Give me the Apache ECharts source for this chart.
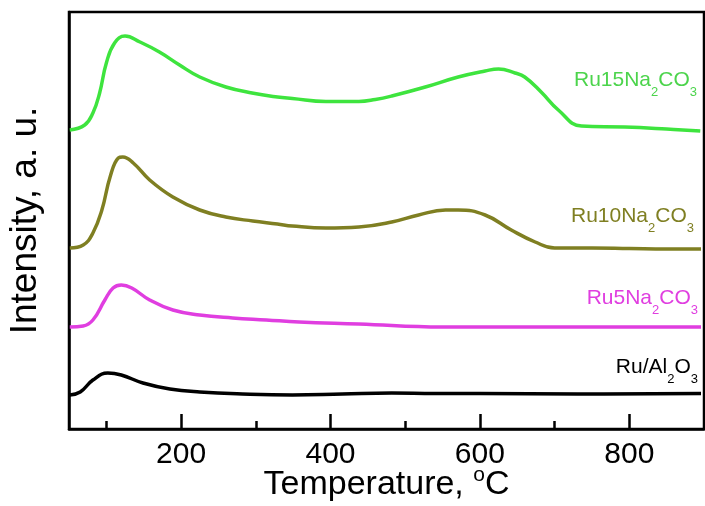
<!DOCTYPE html>
<html>
<head>
<meta charset="utf-8">
<script src="https://cdn.jsdelivr.net/npm/echarts@6/dist/echarts.min.js"></script>
<style>
  html, body { margin: 0; padding: 0; background: #fff; }
  #chart { width: 705px; height: 506px; }
</style>
</head>
<body>
<div id="chart"></div>
<script>
// H2-TPD style profiles, stacked with vertical offsets (arbitrary units)
const ru15Temp = [51, 71, 82, 91, 100, 111, 125, 145, 171, 198, 225, 260, 295, 329, 349, 394, 438, 460, 482, 527, 571, 607, 625, 647, 660, 682, 705, 736, 794, 850, 895];
const ru15Int  = [299, 304, 316, 336, 366, 386, 393, 387, 377, 364, 352, 342, 336, 332, 330.5, 327.5, 327.5, 329.5, 333, 342, 352, 358, 360, 356, 352, 337, 319, 303, 302, 300, 298];

const ru10Temp = [51, 69, 82, 94, 105, 116, 122, 136, 158, 189, 225, 260, 296, 329, 349, 394, 438, 482, 518, 554, 571, 607, 642, 674, 700, 750, 800, 850, 896];
const ru10Int  = [181, 184, 196, 219, 252, 271, 272, 266, 249, 232, 219, 212, 208, 205, 203, 201, 202, 207, 214, 219, 219, 214, 199, 187, 181, 181, 180.5, 180, 180];

const ru5Temp = [51, 69, 82, 98, 109, 120, 134, 158, 189, 225, 269, 314, 358, 438, 550, 700, 896];
const ru5Int  = [102, 103, 109, 129, 141, 144, 141, 129, 119, 114, 111, 109, 107, 105, 102, 102, 102];

const ruAlTemp = [51, 65, 82, 102, 120, 149, 185, 225, 282, 349, 416, 482, 540, 600, 731, 896];
const ruAlInt  = [34, 37, 49, 56, 54, 46, 40, 37, 35, 34, 35, 36, 35.5, 35.5, 35, 35.5];

const majorTicks = [200, 400, 600, 800];
const minorTicks = [100, 300, 500, 700];

const seriesNames = ['Ru15Na2CO3', 'Ru10Na2CO3', 'Ru5Na2CO3', 'Ru/Al2O3'];
const seriesColors = ['#3ee43e', '#7f7f22', '#e03ee0', '#000000'];

function zip(xs, ys) { return xs.map((x, i) => [x, ys[i]]); }

const chart = echarts.init(document.getElementById('chart'), null, { renderer: 'canvas' });

const FONT = 'Liberation Sans, Arial, sans-serif';

function curve(name, temps, ints, color) {
  return {
    name: name,
    type: 'line',
    data: zip(temps, ints),
    smooth: 0.45,
    showSymbol: false,
    symbol: 'none',
    lineStyle: { color: color, width: 3.5 },
    itemStyle: { color: color },
    z: 3
  };
}

// Series label with subscript digits
function subLabel(parts, color, right, top) {
  return {
    type: 'text',
    right: right,
    top: top,
    z: 10,
    style: {
      text: parts,
      fill: color,
      font: '21px ' + FONT,
      rich: {
        m: { fontSize: 21, fontFamily: FONT, lineHeight: 24, verticalAlign: 'top', color: color },
        s: { fontSize: 13, fontFamily: FONT, lineHeight: 29, verticalAlign: 'bottom', color: color }
      }
    }
  };
}

const option = {
  animation: false,
  backgroundColor: '#fff',
  grid: {
    left: 69, right: 1, top: 12, bottom: 77,
    outerBoundsMode: 'none',
    containLabel: false,
    show: true, borderColor: '#000', borderWidth: 2.5, backgroundColor: 'transparent'
  },
  xAxis: [
    {
      type: 'value', min: 50, max: 900, position: 'bottom',
      axisLine: { show: true, lineStyle: { color: '#000', width: 2.5 } },
      axisTick: { show: true, inside: true, length: 15, customValues: majorTicks, lineStyle: { color: '#000', width: 2.5 } },
      axisLabel: { show: true, customValues: majorTicks, color: '#000', fontSize: 30, fontFamily: FONT, margin: 11 },
      splitLine: { show: false },
      name: 'Temperature, {sup|o}C',
      nameLocation: 'middle', nameGap: 36,
      nameMoveOverlap: false,
      nameTextStyle: {
        color: '#000', fontSize: 34, fontFamily: FONT, lineHeight: 40,
        rich: {
          sup: { fontSize: 21, fontFamily: FONT, verticalAlign: 'top', color: '#000' }
        }
      }
    },
    {
      type: 'value', min: 50, max: 900, position: 'bottom',
      axisLine: { show: false },
      axisTick: { show: true, inside: true, length: 8, customValues: minorTicks, lineStyle: { color: '#000', width: 2.5 } },
      axisLabel: { show: false },
      splitLine: { show: false }
    }
  ],
  yAxis: [
    {
      type: 'value', min: 0, max: 417,
      axisLine: { show: true, lineStyle: { color: '#000', width: 2.5 } },
      axisTick: { show: false },
      axisLabel: { show: false },
      splitLine: { show: false },
      name: 'Intensity, a. u.',
      nameLocation: 'middle', nameGap: 25,
      nameMoveOverlap: false,
      nameTextStyle: { color: '#000', fontSize: 37, fontFamily: FONT }
    }
  ],
  series: [
    curve(seriesNames[0], ru15Temp, ru15Int, seriesColors[0]),
    curve(seriesNames[1], ru10Temp, ru10Int, seriesColors[1]),
    curve(seriesNames[2], ru5Temp, ru5Int, seriesColors[2]),
    curve(seriesNames[3], ruAlTemp, ruAlInt, seriesColors[3])
  ],
  graphic: [
    subLabel('{m|Ru15Na}{s|2}{m|CO}{s|3}', '#4cd44c', 8, 70),
    subLabel('{m|Ru10Na}{s|2}{m|CO}{s|3}', '#7f7f22', 11, 206),
    subLabel('{m|Ru5Na}{s|2}{m|CO}{s|3}', '#e03ee0', 7, 288),
    subLabel('{m|Ru/Al}{s|2}{m|O}{s|3}', '#000000', 7, 357)
  ]
};

chart.setOption(option);
</script>
</body>
</html>
